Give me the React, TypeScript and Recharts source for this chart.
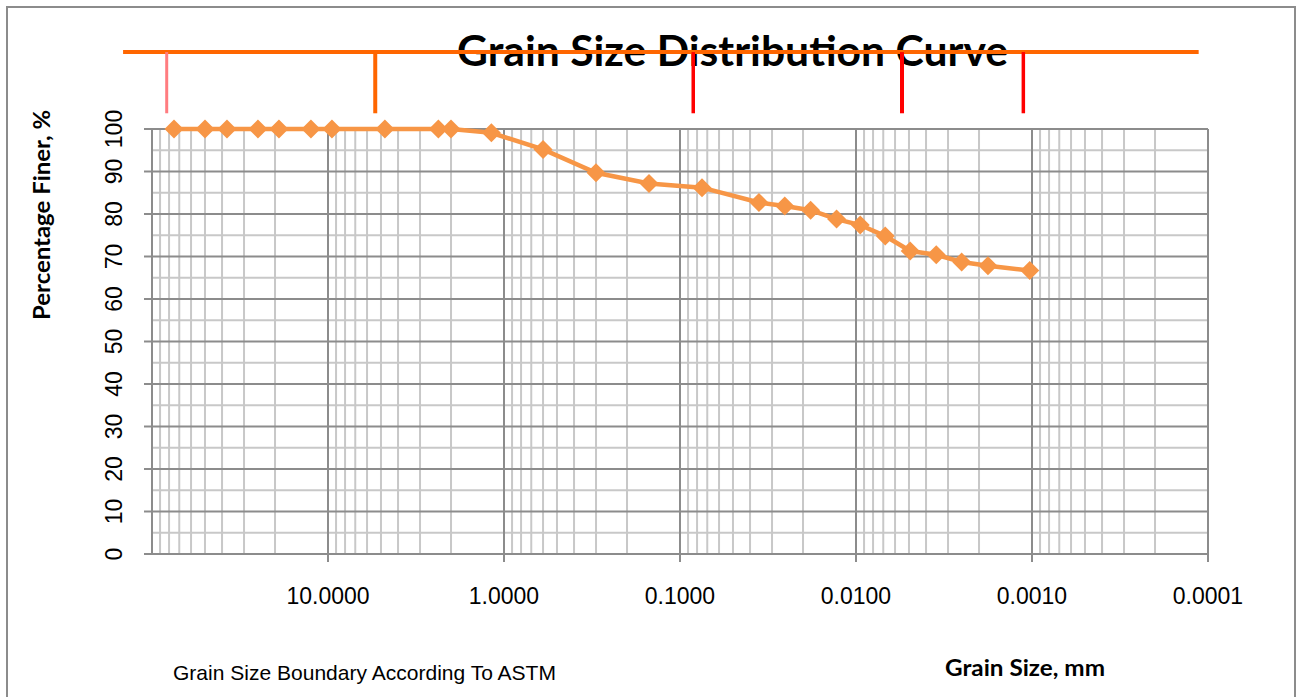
import React from 'react';
import { LineChart, Line, XAxis, YAxis, CartesianGrid, ReferenceLine } from 'recharts';

// ---- data ----
const grainSize = [
  75, 50, 37.5, 25, 19, 12.5, 9.5, 4.75, 2.36, 2.0, 1.18, 0.6, 0.3, 0.15, 0.075,
  0.0356, 0.0254, 0.0181, 0.0129, 0.00946, 0.00682, 0.00492, 0.0035, 0.00251, 0.00178, 0.00103,
];
const percentFiner = [
  100, 100, 100, 100, 100, 100, 100, 100, 100, 100, 99.1, 95.2, 89.7, 87.2, 86.2,
  82.7, 81.9, 80.9, 78.8, 77.4, 74.8, 71.3, 70.4, 68.7, 67.8, 66.7,
];
const xTicks = [10, 1, 0.1, 0.01, 0.001, 0.0001];
const yTicks = [0, 10, 20, 30, 40, 50, 60, 70, 80, 90, 100];

// ASTM boundary markers drawn above the plot (positions, mm)
const boundarySizes = [82.5, 5.39, 0.0841, 0.00548, 0.00112];
const boundaryColors = ['#FF7C80', '#FF6600', '#FF0000', '#FF0000', '#FF0000'];
const boundaryWidths = [3, 4, 3.5, 4, 3.5];
const boundaryBarFrom = 146;
const boundaryBarTo = 0.000113;
const boundaryBarLevel = 118.1;
const boundaryDropLevel = 103.7;

const data = grainSize.map((s, i) => ({ size: s, finer: percentFiner[i] }));

// log grid values
const majorX = [100, 10, 1, 0.1, 0.01, 0.001, 0.0001];
const minorX: number[] = [];
[10, 1, 0.1, 0.01, 0.001, 0.0001].forEach((d) => {
  for (let m = 2; m <= 9; m++) minorX.push(m * d);
});
const majorY = [10, 20, 30, 40, 50, 60, 70, 80, 90, 100];
const minorY = [5, 15, 25, 35, 45, 55, 65, 75, 85, 95];

const ORANGE = '#F79646';
const ARIAL = '"Liberation Sans", Arial, sans-serif';
const CAL = 'Lato, "Open Sans", sans-serif';

const Diamond = (props: any) => {
  const { cx, cy } = props;
  if (cx == null || cy == null) return null;
  const r = 9.5;
  return (
    <polygon
      points={`${cx},${cy - r} ${cx + r},${cy} ${cx},${cy + r} ${cx - r},${cy}`}
      fill={ORANGE}
      stroke="none"
    />
  );
};

const XTick = (props: any) => {
  const { x, y, payload } = props;
  return (
    <text x={x} y={y + 40} textAnchor="middle" fontFamily={ARIAL} fontSize={23} fill="#000">
      {Number(payload.value).toFixed(4)}
    </text>
  );
};

const YTick = (props: any) => {
  const { x, y, payload } = props;
  return (
    <text
      transform={`translate(${x - 20.3},${y}) rotate(-90)`}
      textAnchor="middle"
      fontFamily={ARIAL}
      fontSize={23}
      fill="#000"
    >
      {payload.value}
    </text>
  );
};

export default function App() {
  return (
    <div style={{ position: 'absolute', left: 0, top: 0, width: 1304, height: 697, overflow: 'hidden', background: '#fff' }}>
      <div
        style={{
          position: 'absolute',
          left: 6,
          top: 6,
          width: 1290,
          height: 760,
          border: '2px solid #8c8c8c',
          boxSizing: 'border-box',
        }}
      />
      <svg width={1304} height={697} style={{ position: 'absolute', left: 0, top: 0 }}>
        <text x={457} y={66} fontFamily={CAL} fontWeight={700} fontSize={42} textLength={551} lengthAdjust="spacingAndGlyphs" fill="#000">
          Grain Size Distribution Curve
        </text>
        <text
          transform="translate(50,215) rotate(-90)"
          textAnchor="middle"
          fontFamily={CAL}
          fontWeight={700}
          fontSize={23}
          textLength={210}
          lengthAdjust="spacingAndGlyphs"
          fill="#000"
        >
          Percentage Finer, %
        </text>
        <text x={945} y={676} fontFamily={CAL} fontWeight={700} fontSize={23.5} textLength={160} lengthAdjust="spacingAndGlyphs" fill="#000">
          Grain Size, mm
        </text>
        <text x={173} y={680} fontFamily={ARIAL} fontSize={21} textLength={383} lengthAdjust="spacingAndGlyphs" fill="#000">
          Grain Size Boundary According To ASTM
        </text>
      </svg>
      <div style={{ position: 'absolute', left: 0, top: 0 }}>
        <LineChart width={1304} height={697} data={data} margin={{ top: 129, right: 96, bottom: 93, left: 92 }}>
          <CartesianGrid
            horizontalValues={minorY}
            verticalValues={minorX}
            stroke="#c8c8c8"
            strokeWidth={2}
            fill="none"
          />
          <CartesianGrid
            horizontalValues={majorY}
            verticalValues={majorX}
            stroke="#8c8c8c"
            strokeWidth={2}
            fill="none"
          />
          <XAxis
            dataKey="size"
            type="number"
            scale="log"
            domain={[0.0001, 100]}
            reversed
            allowDataOverflow
            ticks={xTicks}
            interval={0}
            height={50}
            tickSize={8}
            axisLine={{ stroke: '#8c8c8c', strokeWidth: 2 }}
            tickLine={{ stroke: '#8c8c8c', strokeWidth: 2 }}
            tick={<XTick />}
          />
          <YAxis
            type="number"
            domain={[0, 100]}
            ticks={yTicks}
            interval={0}
            width={60}
            tickSize={8}
            axisLine={{ stroke: '#8c8c8c', strokeWidth: 2 }}
            tickLine={{ stroke: '#8c8c8c', strokeWidth: 2 }}
            tick={<YTick />}
          />
          <ReferenceLine
            segment={[
              { x: boundaryBarFrom, y: boundaryBarLevel },
              { x: boundaryBarTo, y: boundaryBarLevel },
            ]}
            stroke="#FF6600"
            strokeWidth={4}
            ifOverflow="visible"
          />
          {boundarySizes.map((s, i) => (
            <ReferenceLine
              key={i}
              segment={[
                { x: s, y: boundaryBarLevel },
                { x: s, y: boundaryDropLevel },
              ]}
              stroke={boundaryColors[i]}
              strokeWidth={boundaryWidths[i]}
              ifOverflow="visible"
            />
          ))}
          <Line
            type="linear"
            dataKey="finer"
            stroke={ORANGE}
            strokeWidth={4.5}
            dot={<Diamond />}
            activeDot={false}
            isAnimationActive={false}
          />
        </LineChart>
      </div>
    </div>
  );
}
